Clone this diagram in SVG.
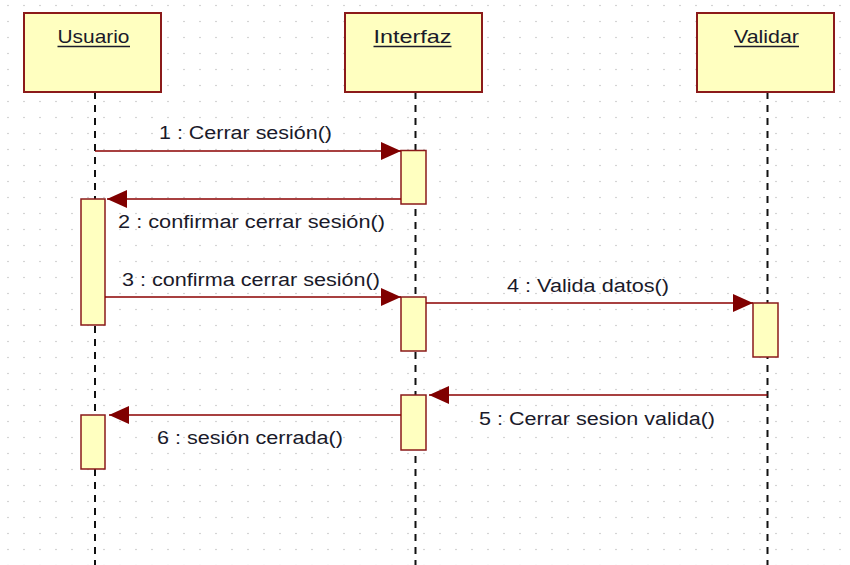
<svg xmlns="http://www.w3.org/2000/svg" width="850" height="565" viewBox="0 0 850 565">
<style>
.obj{fill:#FFFFC0;stroke:#8B1A1A;stroke-width:2}
.act{fill:#FFFFC0;stroke:#8B1A1A;stroke-width:1.5}
.life{stroke:#111;stroke-width:2;stroke-dasharray:7,6;fill:none}
.msg{stroke:#8B0000;stroke-width:1.5;fill:none}
.t{font-family:"Liberation Sans",Arial,sans-serif;font-size:18px;fill:#1a1a2a}
.h{font-family:"Liberation Sans",Arial,sans-serif;font-size:19px;fill:#1a1a2a;text-anchor:middle}
.ul{stroke:#1a1a2a;stroke-width:1.5}
</style>
<defs>
<pattern id="grid" x="0" y="0" width="16" height="16" patternUnits="userSpaceOnUse">
<circle cx="8" cy="5.5" r="0.8" fill="#c4c4c4"/>
</pattern>
<marker id="ah" viewBox="0 0 20 18" refX="20" refY="9" markerWidth="20" markerHeight="18" markerUnits="userSpaceOnUse" orient="auto">
<path d="M0,0 L20,9 L0,18 Z" fill="#800000"/>
</marker>
</defs>
<rect width="850" height="565" fill="#fff"/>
<rect width="850" height="565" fill="url(#grid)"/>

<g id="lifelines">
<line class="life" x1="95" y1="92" x2="95" y2="565"/>
<line class="life" x1="415.5" y1="92" x2="415.5" y2="565"/>
<line class="life" x1="767.5" y1="92" x2="767.5" y2="565"/>
</g>

<g id="Usuario">
<rect class="obj" x="24" y="13" width="137" height="79"/>
<text class="h" x="93.5" y="43" textLength="72" lengthAdjust="spacingAndGlyphs">Usuario</text>
<line class="ul" x1="57.5" y1="46.5" x2="130" y2="46.5"/>
</g>
<g id="Interfaz">
<rect class="obj" x="345" y="13" width="137" height="79"/>
<text class="h" x="412.5" y="43" textLength="78" lengthAdjust="spacingAndGlyphs">Interfaz</text>
<line class="ul" x1="373.5" y1="46.5" x2="451.5" y2="46.5"/>
</g>
<g id="Validar">
<rect class="obj" x="697" y="13" width="137" height="79"/>
<text class="h" x="766.5" y="43" textLength="65" lengthAdjust="spacingAndGlyphs">Validar</text>
<line class="ul" x1="734" y1="46.5" x2="799" y2="46.5"/>
</g>

<g id="activations">
<rect class="act" x="401" y="150.5" width="25" height="53.5"/>
<rect class="act" x="81" y="199" width="24" height="126"/>
<rect class="act" x="401" y="297" width="25" height="54"/>
<rect class="act" x="753" y="303" width="25" height="54"/>
<rect class="act" x="401" y="395" width="25" height="55"/>
<rect class="act" x="81" y="415" width="24" height="54"/>
</g>

<g id="connectors">
<line class="msg" x1="95" y1="151" x2="401" y2="151" marker-end="url(#ah)"/>
<line class="msg" x1="401" y1="199" x2="107" y2="199" marker-end="url(#ah)"/>
<line class="msg" x1="105" y1="297" x2="401" y2="297" marker-end="url(#ah)"/>
<line class="msg" x1="426" y1="303" x2="753" y2="303" marker-end="url(#ah)"/>
<line class="msg" x1="767.5" y1="395" x2="429" y2="395" marker-end="url(#ah)"/>
<line class="msg" x1="401" y1="415" x2="109" y2="415" marker-end="url(#ah)"/>
</g>

<g id="labels">
<text class="t" x="159" y="139" textLength="173" lengthAdjust="spacingAndGlyphs">1 : Cerrar sesión()</text>
<text class="t" x="118" y="228" textLength="267" lengthAdjust="spacingAndGlyphs">2 : confirmar cerrar sesión()</text>
<text class="t" x="122" y="285.5" textLength="258" lengthAdjust="spacingAndGlyphs">3 : confirma cerrar sesión()</text>
<text class="t" x="507" y="291.5" textLength="162" lengthAdjust="spacingAndGlyphs">4 : Valida datos()</text>
<text class="t" x="479" y="425" textLength="236" lengthAdjust="spacingAndGlyphs">5 : Cerrar sesion valida()</text>
<text class="t" x="157" y="444" textLength="186" lengthAdjust="spacingAndGlyphs">6 : sesión cerrada()</text>
</g>
</svg>
